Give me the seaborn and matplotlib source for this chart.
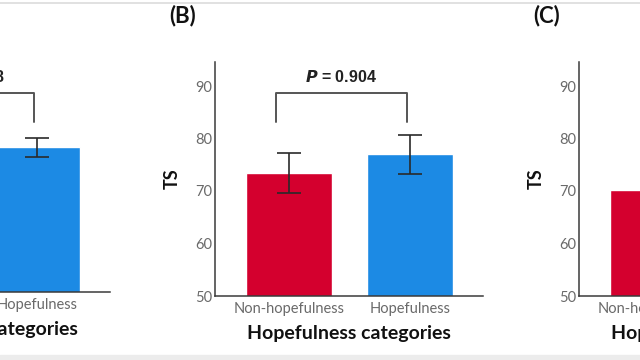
import numpy as np
import pandas as pd
import matplotlib
matplotlib.use("Agg")
import matplotlib.pyplot as plt
import seaborn as sns

categories = ["Non-hopefulness", "Hopefulness"]
panel_labels = ["(A)", "(B)", "(C)"]
means_a = [72.0, 77.6]
err_a = [2.5, 1.8]
means_b = [73.4, 77.0]
err_b = [3.8, 3.7]
means_c = [70.2, 74.0]
err_c = [3.0, 3.0]
p_labels = ["0.048", "0.904", None]
bracket_top = [87.9, 88.7, None]
bracket_bottom = [82.4, 83.1, None]
yticks = [50, 60, 70, 80, 90]
xlabel = "Hopefulness categories"
ylabel = "TS"

RED = "#D4002E"
BLUE = "#1C8AE4"

sns.set_theme(style="white")
plt.rcParams["font.family"] = ["Lato", "DejaVu Sans"]

W, H = 640, 360
fig = plt.figure(figsize=(6.4, 3.6), dpi=100)
fig.patch.set_facecolor("white")

# light frame of the original figure
fig.add_artist(plt.Line2D([0, 1], [1 - 2.5 / H, 1 - 2.5 / H], color="#dcdcdc", lw=1.2, transform=fig.transFigure))
fig.add_artist(plt.Rectangle((0, 0), 1, 5 / H, color="#ececec", transform=fig.transFigure, zorder=0))

ax_w, ax_h = 268, 234
lefts = [-158, 215, 579]
bottoms = [292, 296, 296]
all_means = [means_a, means_b, means_c]
all_errs = [err_a, err_b, err_c]

for i in range(3):
    l = lefts[i]
    b = bottoms[i]
    ax = fig.add_axes([l / W, (H - b) / H, ax_w / W, ax_h / H])
    df = pd.DataFrame({"cat": categories, "val": all_means[i]})
    sns.barplot(data=df, x="cat", y="val", hue="cat", palette=[RED, BLUE],
                width=0.71, ax=ax, legend=False, errorbar=None, saturation=1)
    ax.errorbar(np.arange(len(categories)), all_means[i], yerr=all_errs[i],
                fmt="none", ecolor="#2a2a2a", elinewidth=1.2, capsize=8.6, capthick=1.2, zorder=5)
    ax.set_xlim(-0.61, 1.60)
    ax.set_ylim(50, 50 + ax_h / 5.25)
    ax.set_yticks(yticks)
    ax.set_yticklabels([str(t) for t in yticks])
    for s in ["top", "right"]:
        ax.spines[s].set_visible(False)
    for s in ["left", "bottom"]:
        ax.spines[s].set_color("#3a3a3a")
        ax.spines[s].set_linewidth(1.1)
    ax.tick_params(axis="both", length=0, labelsize=10.5, labelcolor="#6a6a6a")
    ax.tick_params(axis="x", pad=4)
    ax.tick_params(axis="y", pad=2)
    ax.set_xlabel(xlabel, fontsize=14, fontweight="bold", color="#111111")
    ax.xaxis.set_label_coords(0.5, -29 / ax_h)
    ax.set_ylabel(ylabel, fontsize=13, fontweight="bold", color="#111111")
    ax.yaxis.set_label_coords(-34 / ax_w, 0.5)
    if p_labels[i] is not None:
        x0, x1 = -0.11, 0.975
        ax.plot([x0, x0, x1, x1], [bracket_bottom[i], bracket_top[i], bracket_top[i], bracket_bottom[i]],
                color="#555555", lw=1.4, clip_on=False)
        ax.text((x0 + x1) / 2, bracket_top[i] + 3.0, "$\\bfit{P}$ = " + p_labels[i],
                ha="center", va="center", fontsize=11.5, fontweight="bold",
                family=["Liberation Sans", "DejaVu Sans"], color="#222222")
    fig.text((l - 32) / W, 1 - 16 / H, panel_labels[i], ha="center", va="center",
             fontsize=16, fontweight="bold", color="#111111")

fig.savefig("out.png", dpi=100)
